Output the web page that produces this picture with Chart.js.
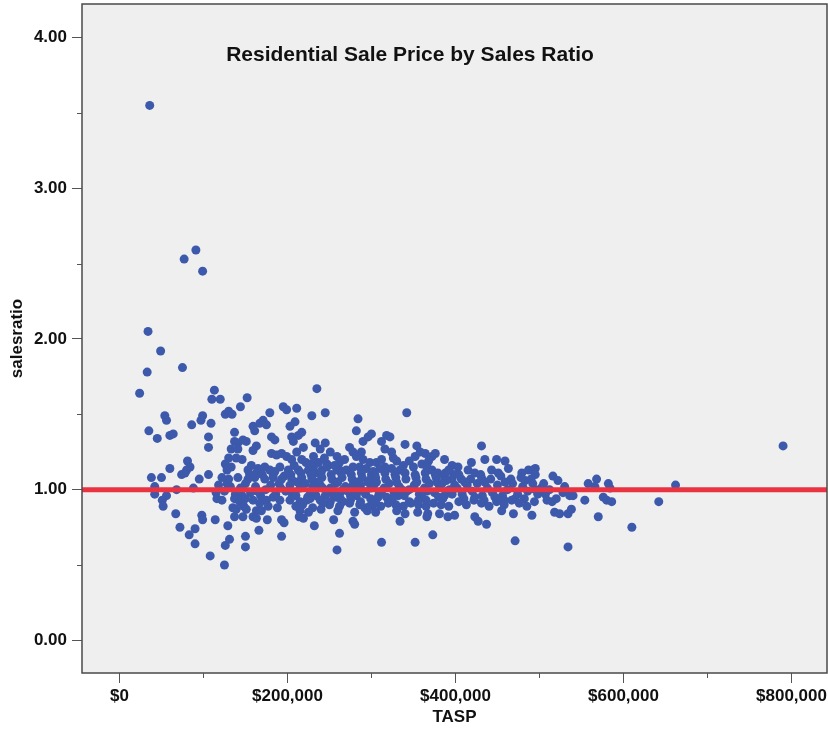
<!DOCTYPE html>
<html>
<head>
<meta charset="utf-8">
<script src="https://cdn.jsdelivr.net/npm/chart.js@4"></script>
<style>
  html, body { margin: 0; padding: 0; background: #fff; }
</style>
</head>
<body>
<canvas id="salesChart" width="828" height="736"></canvas>
<script>
const chartTitle = 'Residential Sale Price by Sales Ratio';
const xTitle = 'TASP';
const yTitle = 'salesratio';
const xMinorTicks = [100, 300, 500, 700];      // $ thousands
const yMinorTicks = [0.5, 1.5, 2.5, 3.5];
const referenceRatio = 1.0;
const xRange = [-44.6, 842.3];                 // $ thousands
const yRange = [-0.217, 4.223];

// [TASP in $ thousands, salesratio]
const under100k = [
  [36,3.55],[91,2.59],[77,2.53],[99,2.45],[34,2.05],[49,1.92],[33,1.78],[24,1.64],[75,1.81],
  [54,1.49],[56,1.46],[86,1.43],[99,1.49],[97,1.46],[35,1.39],[45,1.34],[60,1.36],[64,1.37],
  [81,1.19],[84,1.15],[80,1.13],[60,1.14],[74,1.10],[78,1.11],[38,1.08],[50,1.08],[95,1.07],
  [42,1.02],[42,0.97],[56,0.96],[51,0.93],[52,0.89],[68,1.00],[88,1.01],[67,0.84],[72,0.75],
  [83,0.70],[90,0.74],[90,0.64],[98,0.83],[99,0.80]
];
const from100to200k = [
  [106,1.35],[106,1.28],[113,1.66],[110,1.60],[120,1.60],[109,1.44],[106,1.10],[115,0.98],[116,0.94],
  [114,0.80],[152,1.61],[144,1.55],[126,1.50],[130,1.52],[134,1.50],[179,1.51],[195,1.55],[199,1.53],
  [137,1.38],[159,1.42],[161,1.39],[167,1.44],[171,1.46],[175,1.43],
  [137,1.32],[141,1.31],[147,1.33],[151,1.32],[163,1.29],[159,1.26],[133,1.27],[141,1.27],
  [181,1.35],[185,1.33],[181,1.24],[187,1.23],[193,1.24],[199,1.22],
  [130,1.21],[139,1.21],[126,1.17],[133,1.15],[128,1.13],
  [146,1.20],[157,1.16],[153,1.13],[165,1.14],[173,1.15],[179,1.13],[163,1.11],[191,1.15],[183,1.10],
  [170,1.10],[185,1.12],[196,1.09],[155,1.10],
  [122,1.08],[130,1.07],[141,1.08],[153,1.07],[161,1.08],[173,1.07],[183,1.08],[193,1.07],
  [118,1.03],[125,0.99],[132,1.02],[138,0.97],[144,1.01],[150,1.04],[156,0.98],[162,1.02],[168,0.96],
  [174,1.00],[180,1.03],[186,0.97],[192,1.01],[198,0.99],[128,1.04],[146,0.96],[164,0.99],[190,1.04],
  [122,0.93],[137,0.94],[143,0.92],[159,0.93],[167,0.91],[183,0.95],[191,0.93],[150,0.94],[175,0.93],
  [135,0.88],[139,0.87],[148,0.89],[151,0.87],[163,0.86],[169,0.86],[177,0.89],[188,0.88],
  [137,0.82],[147,0.82],[159,0.82],[163,0.81],[193,0.80],[196,0.78],[176,0.80],
  [129,0.76],[126,0.63],[131,0.67],[150,0.69],[150,0.62],[166,0.73],[193,0.69],[125,0.50],[108,0.56]
];
const from200to300k = [
  [235,1.67],[211,1.54],[229,1.49],[245,1.51],[209,1.45],[203,1.42],
  [205,1.35],[213,1.36],[217,1.38],[207,1.32],[219,1.28],[233,1.31],[239,1.27],[245,1.31],[211,1.25],
  [205,1.20],[217,1.20],[229,1.17],[237,1.18],[231,1.22],
  [201,1.13],[213,1.13],[225,1.13],[233,1.11],[241,1.13],[231,1.15],[247,1.17],[262,1.13],
  [284,1.47],[282,1.39],[296,1.35],[290,1.32],[288,1.25],[274,1.28],[278,1.25],[251,1.25],[259,1.22],
  [262,1.18],[290,1.20],[286,1.15],[294,1.14],[247,1.15],[259,1.13],[270,1.13],[278,1.15],
  [204,1.10],[216,1.11],[228,1.10],[240,1.11],[252,1.10],[264,1.11],[276,1.10],[288,1.11],[300,1.10],
  [208,1.16],[222,1.18],[244,1.21],[256,1.16],[268,1.20],[282,1.22],[298,1.18],
  [205,1.07],[217,1.08],[229,1.07],[241,1.08],[253,1.07],[265,1.08],[277,1.07],[289,1.08],[299,1.07],
  [203,1.03],[209,0.98],[215,1.01],[221,1.04],[227,0.97],[233,1.00],[239,1.03],[245,0.96],[251,1.01],
  [257,1.04],[263,0.98],[269,1.02],[275,0.96],[281,1.00],[287,1.03],[293,0.97],[299,1.01],[212,1.05],
  [236,1.05],[260,1.05],[284,1.05],[224,0.95],[248,0.99],[272,0.99],[296,1.05],[206,0.96],[230,1.02],
  [254,0.97],[278,1.03],[242,1.01],[266,1.00],[290,0.99],
  [210,0.96],[234,0.96],[258,0.95],[282,0.96],
  [203,0.93],[215,0.92],[227,0.94],[239,0.93],[251,0.92],[263,0.94],[275,0.93],[287,0.92],[299,0.94],[223,0.93],
  [250,0.90],[262,0.89],[274,0.91],[286,0.90],[298,0.89],[210,0.89],[230,0.88],
  [218,0.90],[242,0.91],[266,0.92],[292,0.88],
  [215,0.86],[225,0.85],[240,0.87],[260,0.86],[280,0.85],[295,0.86],
  [214,0.82],[219,0.81],[255,0.80],[278,0.79],[280,0.77],[232,0.76],[262,0.71],[259,0.60]
];
const from300to400k = [
  [342,1.51],[300,1.37],[318,1.36],[322,1.35],[312,1.32],[316,1.27],[324,1.25],[340,1.30],[354,1.29],
  [358,1.25],[352,1.22],[316,1.15],[324,1.14],[334,1.13],[350,1.15],[302,1.12],
  [364,1.24],[372,1.22],[376,1.24],[387,1.20],[396,1.16],[372,1.13],[379,1.11],[387,1.08],[396,1.07],
  [306,1.18],[312,1.20],[330,1.19],[345,1.19],[360,1.17],[326,1.21],[368,1.19],
  [304,1.10],[316,1.11],[328,1.10],[340,1.11],[352,1.10],[364,1.11],[376,1.10],[388,1.11],[398,1.10],
  [310,1.14],[338,1.16],[366,1.15],[392,1.13],
  [305,1.08],[317,1.07],[329,1.08],[341,1.07],[353,1.08],[365,1.07],[377,1.08],[389,1.06],
  [303,1.03],[309,0.97],[315,1.01],[321,1.04],[327,0.98],[333,1.02],[339,0.96],[345,1.00],[351,1.03],
  [357,0.97],[363,1.01],[369,1.04],[375,0.98],[381,1.02],[387,0.96],[393,1.00],[399,1.03],[306,1.05],
  [330,1.05],[354,1.05],[378,1.05],[318,0.95],[342,0.99],[366,0.99],[390,0.99],[312,0.99],[336,1.00],
  [360,0.95],[384,1.04],[396,0.97],[308,0.95],[332,0.96],[356,0.93],[380,0.95],
  [302,0.90],[311,0.89],[320,0.91],[329,0.90],[338,0.89],[347,0.91],[356,0.90],[365,0.89],[374,0.91],
  [383,0.90],[392,0.89],[305,0.93],[325,0.94],[345,0.92],[365,0.93],[385,0.94],
  [305,0.85],[330,0.86],[355,0.85],[340,0.84],[367,0.84],[381,0.84],[391,0.82],[399,0.83],
  [334,0.79],[366,0.82],[312,0.65],[352,0.65],[373,0.70]
];
const from400to500k = [
  [431,1.29],[403,1.15],[419,1.18],[435,1.20],[449,1.20],[459,1.19],[463,1.14],[415,1.13],[423,1.11],
  [431,1.08],[443,1.13],[451,1.11],[479,1.11],[487,1.13],[495,1.14],[407,1.07],[495,1.10],[493,1.13],
  [404,1.10],[418,1.07],[430,1.10],[442,1.07],[454,1.09],[466,1.07],[478,1.08],[490,1.07],
  [402,1.01],[408,0.97],[414,1.03],[420,0.99],[426,1.04],[432,0.96],[438,1.01],[444,0.98],[450,1.03],
  [456,0.96],[462,1.00],[468,1.04],[474,0.97],[480,1.02],[486,0.99],[492,1.04],[498,0.97],[411,1.05],
  [435,1.05],[459,1.05],[483,1.06],[423,0.95],[447,0.95],[471,0.94],[495,1.00],
  [410,0.94],[434,0.93],[458,0.93],[482,0.94],
  [404,0.92],[413,0.90],[422,0.93],[431,0.91],[440,0.89],[449,0.92],[458,0.90],[467,0.93],[476,0.91],
  [485,0.89],[494,0.92],
  [423,0.82],[427,0.79],[437,0.77],[455,0.86],[469,0.84],[491,0.83],[471,0.66]
];
const over500k = [
  [516,1.09],[522,1.06],[507,0.97],[509,0.93],[515,0.92],[520,0.94],[528,0.98],[536,0.96],[540,0.96],
  [502,1.01],[505,1.04],[512,1.00],[530,1.02],
  [518,0.85],[524,0.84],[534,0.84],[538,0.87],[554,0.93],[558,1.04],[568,1.07],[566,1.02],[582,1.04],
  [584,1.01],[576,0.95],[580,0.93],[586,0.92],[570,0.82],[610,0.75],[534,0.62],[642,0.92],[662,1.03],
  [790,1.29]
];

const sales = [...under100k, ...from100to200k, ...from200to300k,
               ...from300to400k, ...from400to500k, ...over500k]
  .map(([x, y]) => ({ x, y }));

const tickFont = { family: "'Liberation Sans', Arial, sans-serif", size: 17, weight: 'bold' };
const titleFont = { family: "'Liberation Sans', Arial, sans-serif", size: 17, weight: 'bold' };

const plotFrame = {
  id: 'plotFrame',
  beforeDatasetsDraw(chart) {
    const { ctx, chartArea: a } = chart;
    ctx.save();
    ctx.fillStyle = '#efefef';
    ctx.fillRect(a.left, a.top, a.right - a.left, a.bottom - a.top);
    ctx.restore();
  },
  afterDatasetsDraw(chart) {
    const { ctx, chartArea: a, scales } = chart;
    ctx.save();
    ctx.strokeStyle = '#4a4a4a';
    ctx.lineWidth = 1.5;
    ctx.strokeRect(a.left, a.top, a.right - a.left, a.bottom - a.top);

    // minor ticks
    ctx.lineWidth = 1;
    ctx.strokeStyle = '#555';
    ctx.beginPath();
    xMinorTicks.forEach(v => {
      const px = Math.round(scales.x.getPixelForValue(v)) + 0.5;
      ctx.moveTo(px, a.bottom);
      ctx.lineTo(px, a.bottom + 5);
    });
    yMinorTicks.forEach(v => {
      const py = Math.round(scales.y.getPixelForValue(v)) + 0.5;
      ctx.moveTo(a.left, py);
      ctx.lineTo(a.left - 5, py);
    });
    ctx.stroke();

    ctx.fillStyle = '#111';
    ctx.font = "bold 21px 'Liberation Sans', Arial, sans-serif";
    ctx.textAlign = 'center';
    ctx.textBaseline = 'alphabetic';
    ctx.fillText(chartTitle, a.left + 328, a.top + 57);
    ctx.restore();
  }
};

new Chart(document.getElementById('salesChart'), {
  type: 'scatter',
  data: {
    datasets: [{
      type: 'line',
      label: 'reference',
      data: [{ x: xRange[0], y: referenceRatio }, { x: xRange[1], y: referenceRatio }],
      borderColor: '#ea3340',
      borderWidth: 5,
      pointRadius: 0,
      order: 0
    }, {
      label: 'sales',
      data: sales,
      backgroundColor: '#3d59ab',
      borderWidth: 0,
      pointRadius: 4.5,
      order: 1
    }]
  },
  options: {
    responsive: false,
    animation: false,
    devicePixelRatio: 1,
    layout: { autoPadding: false, padding: { top: 4, right: 1, left: 0, bottom: 0 } },
    plugins: { legend: { display: false }, tooltip: { enabled: false } },
    scales: {
      x: {
        type: 'linear',
        min: xRange[0],
        max: xRange[1],
        afterFit: s => { s.height = 63; s.paddingLeft = 0; s.paddingRight = 0; },
        border: { display: false },
        grid: { drawOnChartArea: false, drawTicks: true, tickLength: 10, color: '#555' },
        ticks: {
          stepSize: 200,
          includeBounds: false,
          maxRotation: 0,
          padding: 3,
          color: '#111',
          font: tickFont,
          callback: v => '$' + (v * 1000).toLocaleString('en-US')
        },
        title: { display: true, text: xTitle, color: '#111', font: titleFont, padding: { top: 0, bottom: 8 } }
      },
      y: {
        type: 'linear',
        min: yRange[0],
        max: yRange[1],
        afterFit: s => { s.width = 82; s.paddingTop = 0; s.paddingBottom = 0; },
        border: { display: false },
        grid: { drawOnChartArea: false, drawTicks: true, tickLength: 10, color: '#555' },
        ticks: {
          stepSize: 1,
          includeBounds: false,
          padding: 5,
          color: '#111',
          font: tickFont,
          callback: v => v.toFixed(2)
        },
        title: { display: true, text: yTitle, color: '#111', font: titleFont, padding: { top: 7, bottom: 0 } }
      }
    }
  },
  plugins: [plotFrame]
});
</script>
</body>
</html>
